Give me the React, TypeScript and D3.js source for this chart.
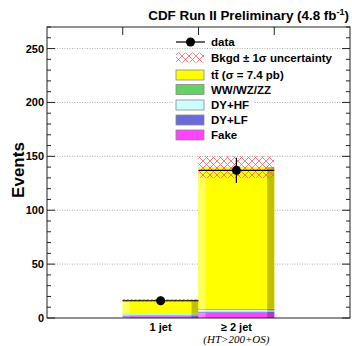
import React from "react";
import * as d3 from "d3";

const categories = ["", "1 jet", "≥ 2 jet", ""];
const binIndex = [1, 2];
const fake = [1.5, 5];
const dyLF = [1, 1];
const dyHF = [1, 1.5];
const diboson = [0.5, 1];
const ttbar = [12.7, 131.5];
const bkgErr = [0.4, 10];
const dataVals = [16, 137];
const yTicks = [0, 50, 100, 150, 200, 250];

const seriesNames = ["Fake", "DY+LF", "DY+HF", "WW/WZ/ZZ", "tt"];
const seriesVals = [fake, dyLF, dyHF, diboson, ttbar];
const baseColors = ["#ff44ff", "#6a6ad8", "#ccffff", "#66d266", "#ffff00"];

const W = 352, H = 346;
const L = 47, R = 350, T = 27, B = 318;

export default function App() {
  const x = d3.scaleLinear().domain([0, 4]).range([L, R]);
  const y = d3.scaleLinear().domain([0, 270]).range([B, T]);
  const minor = d3.range(0, 271, 10);

  const stacks = binIndex.map((bi, i) => {
    let acc = 0;
    return seriesVals.map((s, k) => {
      const y0 = acc;
      acc += s[i];
      return { k, y0, y1: acc };
    });
  });

  const strip = 7;
  const lighter = (c: string) => d3.interpolateRgb(c, "#ffffff")(0.35);
  const darker = (c: string) => d3.color(c)!.darker(0.8).toString();

  const legendRows = [42, 57.5, 75, 89.5, 105, 120, 135];
  const legendLabels = ["data", "Bkgd ± 1σ uncertainty", "tt̄ (σ = 7.4 pb)", "WW/WZ/ZZ", "DY+HF", "DY+LF", "Fake"];
  const legendColors = [null, null, baseColors[4], baseColors[3], baseColors[2], baseColors[1], baseColors[0]];

  return (
    <svg width={W} height={H} style={{ position: "absolute", left: 0, top: 0, fontFamily: "Liberation Sans, Arial, sans-serif" }}>
      <defs>
        <pattern id="hatch" width="7" height="7" patternUnits="userSpaceOnUse">
          <path d="M0,0 L7,7 M7,0 L0,7" stroke="#ff5a5a" strokeWidth="0.8" fill="none" />
        </pattern>
      </defs>
      <rect width={W} height={H} fill="#fff" />
      {yTicks.filter((t) => t > 0).map((t) => (
        <line key={t} x1={L} x2={R} y1={y(t)} y2={y(t)} stroke="#999" strokeWidth={0.8} strokeDasharray="1,1.5" />
      ))}
      <rect x={174} y={51} width={80} height={91} fill="#fff" />
      {binIndex.map((bi, i) => (
        <g key={bi}>
          {stacks[i].map((s) => {
            const c = baseColors[s.k];
            const x0 = x(bi), x1 = x(bi + 1);
            const yt = y(s.y1), yb = y(s.y0);
            return (
              <g key={s.k}>
                <rect x={x0} y={yt} width={x1 - x0} height={yb - yt} fill={c} />
                <rect x={x0} y={yt} width={strip} height={yb - yt} fill={lighter(c)} />
                <rect x={x1 - strip} y={yt} width={strip} height={yb - yt} fill={darker(c)} />
              </g>
            );
          })}
          {(() => {
            const tot = stacks[i][stacks[i].length - 1].y1;
            return (
              <rect x={x(bi)} y={y(tot + bkgErr[i])} width={x(bi + 1) - x(bi)} height={Math.max(1.5, y(tot - bkgErr[i]) - y(tot + bkgErr[i]))} fill="url(#hatch)" stroke={bkgErr[i] < 1 ? "#e05050" : "none"} strokeWidth={0.6} strokeDasharray="2,2" />
            );
          })()}
        </g>
      ))}
      {binIndex.map((bi, i) => {
        const cx = x(bi + 0.5);
        const e = Math.sqrt(dataVals[i]);
        return (
          <g key={"d" + bi}>
            <line x1={x(bi)} x2={x(bi + 1)} y1={y(dataVals[i])} y2={y(dataVals[i])} stroke="#000" strokeWidth={1.2} />
            <line x1={cx} x2={cx} y1={y(dataVals[i] + e)} y2={y(dataVals[i] - e)} stroke="#000" strokeWidth={1.2} />
            <circle cx={cx} cy={y(dataVals[i])} r={4.5} fill="#000" />
          </g>
        );
      })}
      <rect x={L} y={T} width={R - L} height={B - T} fill="none" stroke="#222" strokeWidth={1} />
      {minor.map((t) => {
        const len = t % 50 === 0 ? 8 : 4;
        return (
          <g key={"m" + t}>
            <line x1={L} x2={L + len} y1={y(t)} y2={y(t)} stroke="#222" />
            <line x1={R} x2={R - len} y1={y(t)} y2={y(t)} stroke="#222" />
          </g>
        );
      })}
      {yTicks.map((t) => (
        <text key={"l" + t} x={L - 3} y={y(t) + 4} textAnchor="end" fontSize={11} fontWeight="bold" fill="#000">{t}</text>
      ))}
      {[1, 2, 3].map((b) => (
        <line key={"xt" + b} x1={x(b)} x2={x(b)} y1={T} y2={T + 8} stroke="#222" />
      ))}
      {categories.map((c, i) => c ? (
        <text key={"c" + i} x={x(i + 0.5)} y={331} textAnchor="middle" fontSize={11} fontWeight="bold" fill="#000">{c}</text>
      ) : null)}
      <text x={x(2.5)} y={343} textAnchor="middle" fontSize={11} fontStyle="italic" fontFamily="Liberation Serif, Times New Roman, serif" fill="#000">(HT&gt;200+OS)</text>
      <text transform={`translate(24,170) rotate(-90)`} textAnchor="middle" fontSize={17} fontWeight="bold" fill="#000">Events</text>
      <text x={349} y={20} textAnchor="end" fontSize={13.4} fontWeight="bold" fill="#000">CDF Run II Preliminary (4.8 fb<tspan fontSize={9} dy={-5}>-1</tspan><tspan dy={5}>)</tspan></text>
      {legendLabels.map((lab, i) => {
        const yy = legendRows[i];
        return (
          <g key={"lg" + i}>
            {i === 0 && (
              <g>
                <line x1={176} x2={205} y1={yy} y2={yy} stroke="#000" strokeWidth={1.2} />
                <circle cx={190.5} cy={yy} r={4.5} fill="#000" />
              </g>
            )}
            {i === 1 && <rect x={176} y={yy - 5} width={28} height={10} fill="url(#hatch)" />}
            {i > 1 && <rect x={176} y={yy - 5} width={28} height={10} fill={legendColors[i] as string} stroke="#888" strokeWidth={0.8} />}
            <text x={211} y={yy + 4} fontSize={11.5} fontWeight="bold" fill="#000">{lab}</text>
          </g>
        );
      })}
    </svg>
  );
}
